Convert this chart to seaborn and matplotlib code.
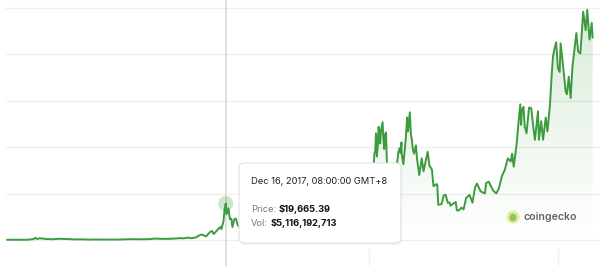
import numpy as np
import pandas as pd
import matplotlib
matplotlib.use("Agg")
import matplotlib.pyplot as plt
import matplotlib.dates as mdates
import seaborn as sns
from matplotlib.patches import FancyBboxPatch, Circle, Ellipse

# ---------------- data ----------------
dates = [
    "2013-04-28", "2013-06-01", "2013-07-05", "2013-08-15", "2013-10-01", "2013-11-15",
    "2013-12-04", "2013-12-18", "2014-01-05", "2014-02-25", "2014-04-10", "2014-06-03",
    "2014-08-18", "2014-10-05", "2014-12-31", "2015-01-14", "2015-03-01", "2015-06-01",
    "2015-08-25", "2015-11-04", "2015-12-15", "2016-02-01", "2016-05-01", "2016-06-17",
    "2016-08-01", "2016-10-01", "2016-12-31",
    "2017-01-04", "2017-01-12", "2017-03-03", "2017-03-24", "2017-05-01", "2017-05-25",
    "2017-06-12", "2017-07-16", "2017-08-17", "2017-09-01", "2017-09-14", "2017-10-20",
    "2017-11-07", "2017-11-12", "2017-11-28", "2017-12-07", "2017-12-16", "2017-12-22",
    "2018-01-06", "2018-01-17", "2018-01-28", "2018-02-06", "2018-02-20", "2018-03-05",
    "2018-03-18", "2018-04-01", "2018-04-24", "2018-05-05", "2018-05-28", "2018-06-29",
    "2018-07-25", "2018-08-14", "2018-09-04", "2018-10-30", "2018-11-20", "2018-12-15",
    "2018-12-31",
    "2019-02-07", "2019-03-31", "2019-04-15", "2019-05-15", "2019-06-26", "2019-07-16",
    "2019-08-06", "2019-08-31", "2019-09-24", "2019-10-26", "2019-11-25", "2019-12-17",
    "2020-01-31", "2020-02-12", "2020-03-12", "2020-04-30", "2020-06-01", "2020-06-30",
    "2020-07-28", "2020-08-17", "2020-09-08", "2020-10-21", "2020-11-05", "2020-11-25",
    "2020-12-17", "2020-12-31",
    "2021-01-08", "2021-01-14", "2021-01-22", "2021-01-29", "2021-02-08", "2021-02-15",
    "2021-02-21", "2021-02-28", "2021-03-07", "2021-03-13", "2021-03-20", "2021-03-25",
    "2021-04-01", "2021-04-13", "2021-04-18", "2021-04-25", "2021-05-03", "2021-05-10",
    "2021-05-13", "2021-05-19", "2021-05-23", "2021-06-01", "2021-06-15", "2021-06-22",
    "2021-07-05", "2021-07-20", "2021-08-01", "2021-08-14", "2021-08-22", "2021-08-31",
    "2021-09-06", "2021-09-08", "2021-09-21", "2021-10-01", "2021-10-10", "2021-10-20",
    "2021-10-27", "2021-11-10", "2021-11-18", "2021-11-26", "2021-12-04", "2021-12-13",
    "2021-12-27",
    "2022-01-05", "2022-01-22", "2022-02-10", "2022-02-24", "2022-03-28", "2022-04-11",
    "2022-04-30", "2022-05-12", "2022-06-01", "2022-06-10", "2022-06-18", "2022-07-13",
    "2022-07-30", "2022-08-14", "2022-08-31", "2022-09-13", "2022-09-21", "2022-10-31",
    "2022-11-09", "2022-11-21", "2022-12-15", "2022-12-31",
    "2023-01-20", "2023-02-15", "2023-03-10", "2023-03-30", "2023-04-14", "2023-05-12",
    "2023-06-15", "2023-06-23", "2023-07-14", "2023-08-17", "2023-09-11", "2023-10-01",
    "2023-10-24", "2023-11-15", "2023-12-08", "2023-12-31",
    "2024-01-11", "2024-01-23", "2024-02-15", "2024-02-28", "2024-03-14", "2024-03-20",
    "2024-03-27", "2024-04-08", "2024-04-17", "2024-05-01", "2024-05-21", "2024-06-07",
    "2024-06-24", "2024-07-05", "2024-07-29", "2024-08-05", "2024-08-23", "2024-09-06",
    "2024-09-27", "2024-10-10", "2024-10-29", "2024-11-13", "2024-11-22", "2024-12-05",
    "2024-12-17", "2024-12-30",
    "2025-01-13", "2025-01-20", "2025-02-03", "2025-02-28", "2025-03-10", "2025-03-24",
    "2025-04-08", "2025-04-22", "2025-05-22", "2025-06-05", "2025-06-22", "2025-07-14",
    "2025-08-02", "2025-08-14", "2025-09-01", "2025-09-18", "2025-09-25",
]
prices = [
    135, 128, 70, 100, 130, 420,
    1150, 520, 950, 530, 400, 670,
    470, 330, 320, 180, 255, 230,
    210, 400, 455, 375, 450, 760,
    620, 615, 965,
    1130, 800, 1280, 940, 1420, 2500,
    2950, 1930, 4300, 4900, 3200, 6000,
    7100, 5900, 9800, 16500, 19665.39, 13800,
    17100, 11200, 11500, 7000, 11200, 11500,
    8200, 6900, 9500, 9800, 7300, 5900,
    8200, 6200, 7300, 6300, 4500, 3200,
    3750,
    3400, 4100, 5100, 8000, 13000, 9500,
    11900, 9600, 8600, 9500, 7000, 6600,
    9350, 10300, 4900, 8700, 10200, 9150,
    11000, 12300, 10100, 12800, 15600, 18800,
    23000, 29000,
    40800, 39000, 30800, 34000, 46000, 48000,
    57500, 45000, 51000, 61000, 58000, 52000,
    59000, 63500, 56000, 49000, 57000, 58000,
    49500, 37000, 34000, 36500, 40000, 32500,
    34000, 29800, 40000, 47500, 49500, 47000,
    52600, 46500, 40800, 48000, 55000, 66000,
    58500, 68800, 57000, 54000, 48500, 46500,
    51000,
    43500, 35000, 44000, 37000, 47500, 40000,
    38000, 29000, 30000, 30000, 19000, 19300,
    24000, 24400, 20000, 20200, 18500, 20500,
    16000, 15800, 17400, 16500,
    22700, 24300, 20100, 28400, 30400, 26200,
    25100, 30700, 31400, 26600, 25100, 28000,
    34500, 37800, 44000, 42300,
    46500, 39500, 51800, 62500, 73100, 62000,
    70000, 71700, 61300, 57500, 71400, 71000,
    60000, 54000, 69400, 54000, 64000, 54000,
    66000, 58500, 72300, 90000, 99000, 103500,
    106500, 92500,
    90500, 106000, 97500, 80000, 78500, 88000,
    76500, 93500, 111500, 101500, 100500, 123000,
    113000, 124000, 108000, 117000, 109000,
]
grid_levels = [0, 25000, 50000, 75000, 100000, 125000]
year_ticks = ["2021-01-01", "2025-01-01"]
hover_date = "2017-12-16"
hover_price = 19665.39
tooltip_title = "Dec 16, 2017, 08:00:00 GMT+8"
price_label, price_value = "Price:", "$19,665.39"
vol_label, vol_value = "Vol:", "$5,116,192,713"
brand = "coingecko"

# ---------------- style ----------------
sns.set_theme(style="white")
plt.rcParams["font.family"] = ["Inter", "DejaVu Sans"]
GREEN = "#3d9b3f"

df = pd.DataFrame({"date": pd.to_datetime(dates), "price": prices})

fig = plt.figure(figsize=(6, 2.66), dpi=100)
fig.patch.set_facecolor("white")
ax = fig.add_axes([6 / 600, 0, 594 / 600, 1])
ax.set_facecolor("white")

x_left = pd.Timestamp("2013-04-20")
x_right = pd.Timestamp("2025-11-21")
y_bottom, y_top = -14010, 129310

for g in grid_levels:
    ax.axhline(g, color="#eeeeee", lw=0.9, zorder=0)

# faint x tick marks at the bottom
ax.vlines(pd.to_datetime(year_ticks), y_bottom, -4300, color="#f1f1f1", lw=1.0, zorder=0)

# gradient area fill
fill = ax.fill_between(df["date"], df["price"], 0, facecolor="none", edgecolor="none")
path = fill.get_paths()[0]
rgb = matplotlib.colors.to_rgb(GREEN)
grad = np.zeros((256, 1, 4))
grad[..., 0], grad[..., 1], grad[..., 2] = rgb
grad[:, 0, 3] = np.linspace(0.0, 0.2, 256)
x0n, x1n = mdates.date2num(x_left), mdates.date2num(x_right)
im = ax.imshow(grad, extent=[x0n, x1n, 0, y_top], origin="lower", aspect="auto", zorder=1)
im.set_clip_path(path, transform=ax.transData)

# crosshair
ax.axvline(pd.Timestamp(hover_date), color="#dddddd", lw=1.3, zorder=2)

sns.lineplot(data=df, x="date", y="price", color=GREEN, lw=1.4, ax=ax, zorder=3)

ax.scatter([pd.Timestamp(hover_date)], [hover_price], s=120, color=GREEN, alpha=0.25,
           edgecolor="none", zorder=4)

ax.set_xlim(x_left, x_right)
ax.set_ylim(y_bottom, y_top)
ax.set_xlabel("")
ax.set_ylabel("")
ax.set_xticks([])
ax.set_yticks([])
for s in ax.spines.values():
    s.set_visible(False)

# ---------------- overlay (pixel coords) ----------------
ov = fig.add_axes([0, 0, 1, 1], zorder=5)
ov.set_xlim(0, 600)
ov.set_ylim(266, 0)
ov.axis("off")
ov.patch.set_alpha(0)

shadow = FancyBboxPatch((240, 165), 162, 80, boxstyle="round,pad=0,rounding_size=5",
                        facecolor="#000000", alpha=0.05, edgecolor="none")
ov.add_patch(shadow)
box = FancyBboxPatch((239, 163), 162, 80, boxstyle="round,pad=0,rounding_size=5",
                     facecolor="white", edgecolor="#e2e2e2", lw=0.8)
ov.add_patch(box)

fs = 6.7
ov.text(251, 181, tooltip_title, fontsize=fs, color="#222222", va="center", ha="left")
ov.text(251, 209, price_label, fontsize=fs, color="#777777", va="center", ha="left")
ov.text(279, 209, price_value, fontsize=fs, color="#111111", va="center", ha="left",
        fontweight="bold")
ov.text(251, 224, vol_label, fontsize=fs, color="#777777", va="center", ha="left")
ov.text(270.5, 224, vol_value, fontsize=fs, color="#111111", va="center", ha="left",
        fontweight="bold")

# brand logo
ov.add_patch(Circle((513, 217), 6.5, facecolor="#e4ec9f", edgecolor="none"))
ov.add_patch(Ellipse((513, 217.5), 7, 8, facecolor="#93c465", edgecolor="none"))
ov.text(523, 217, brand, fontsize=7.6, color="#666666", va="center", ha="left",
        fontweight="semibold")

fig.savefig("out.png", dpi=100, facecolor="white")
